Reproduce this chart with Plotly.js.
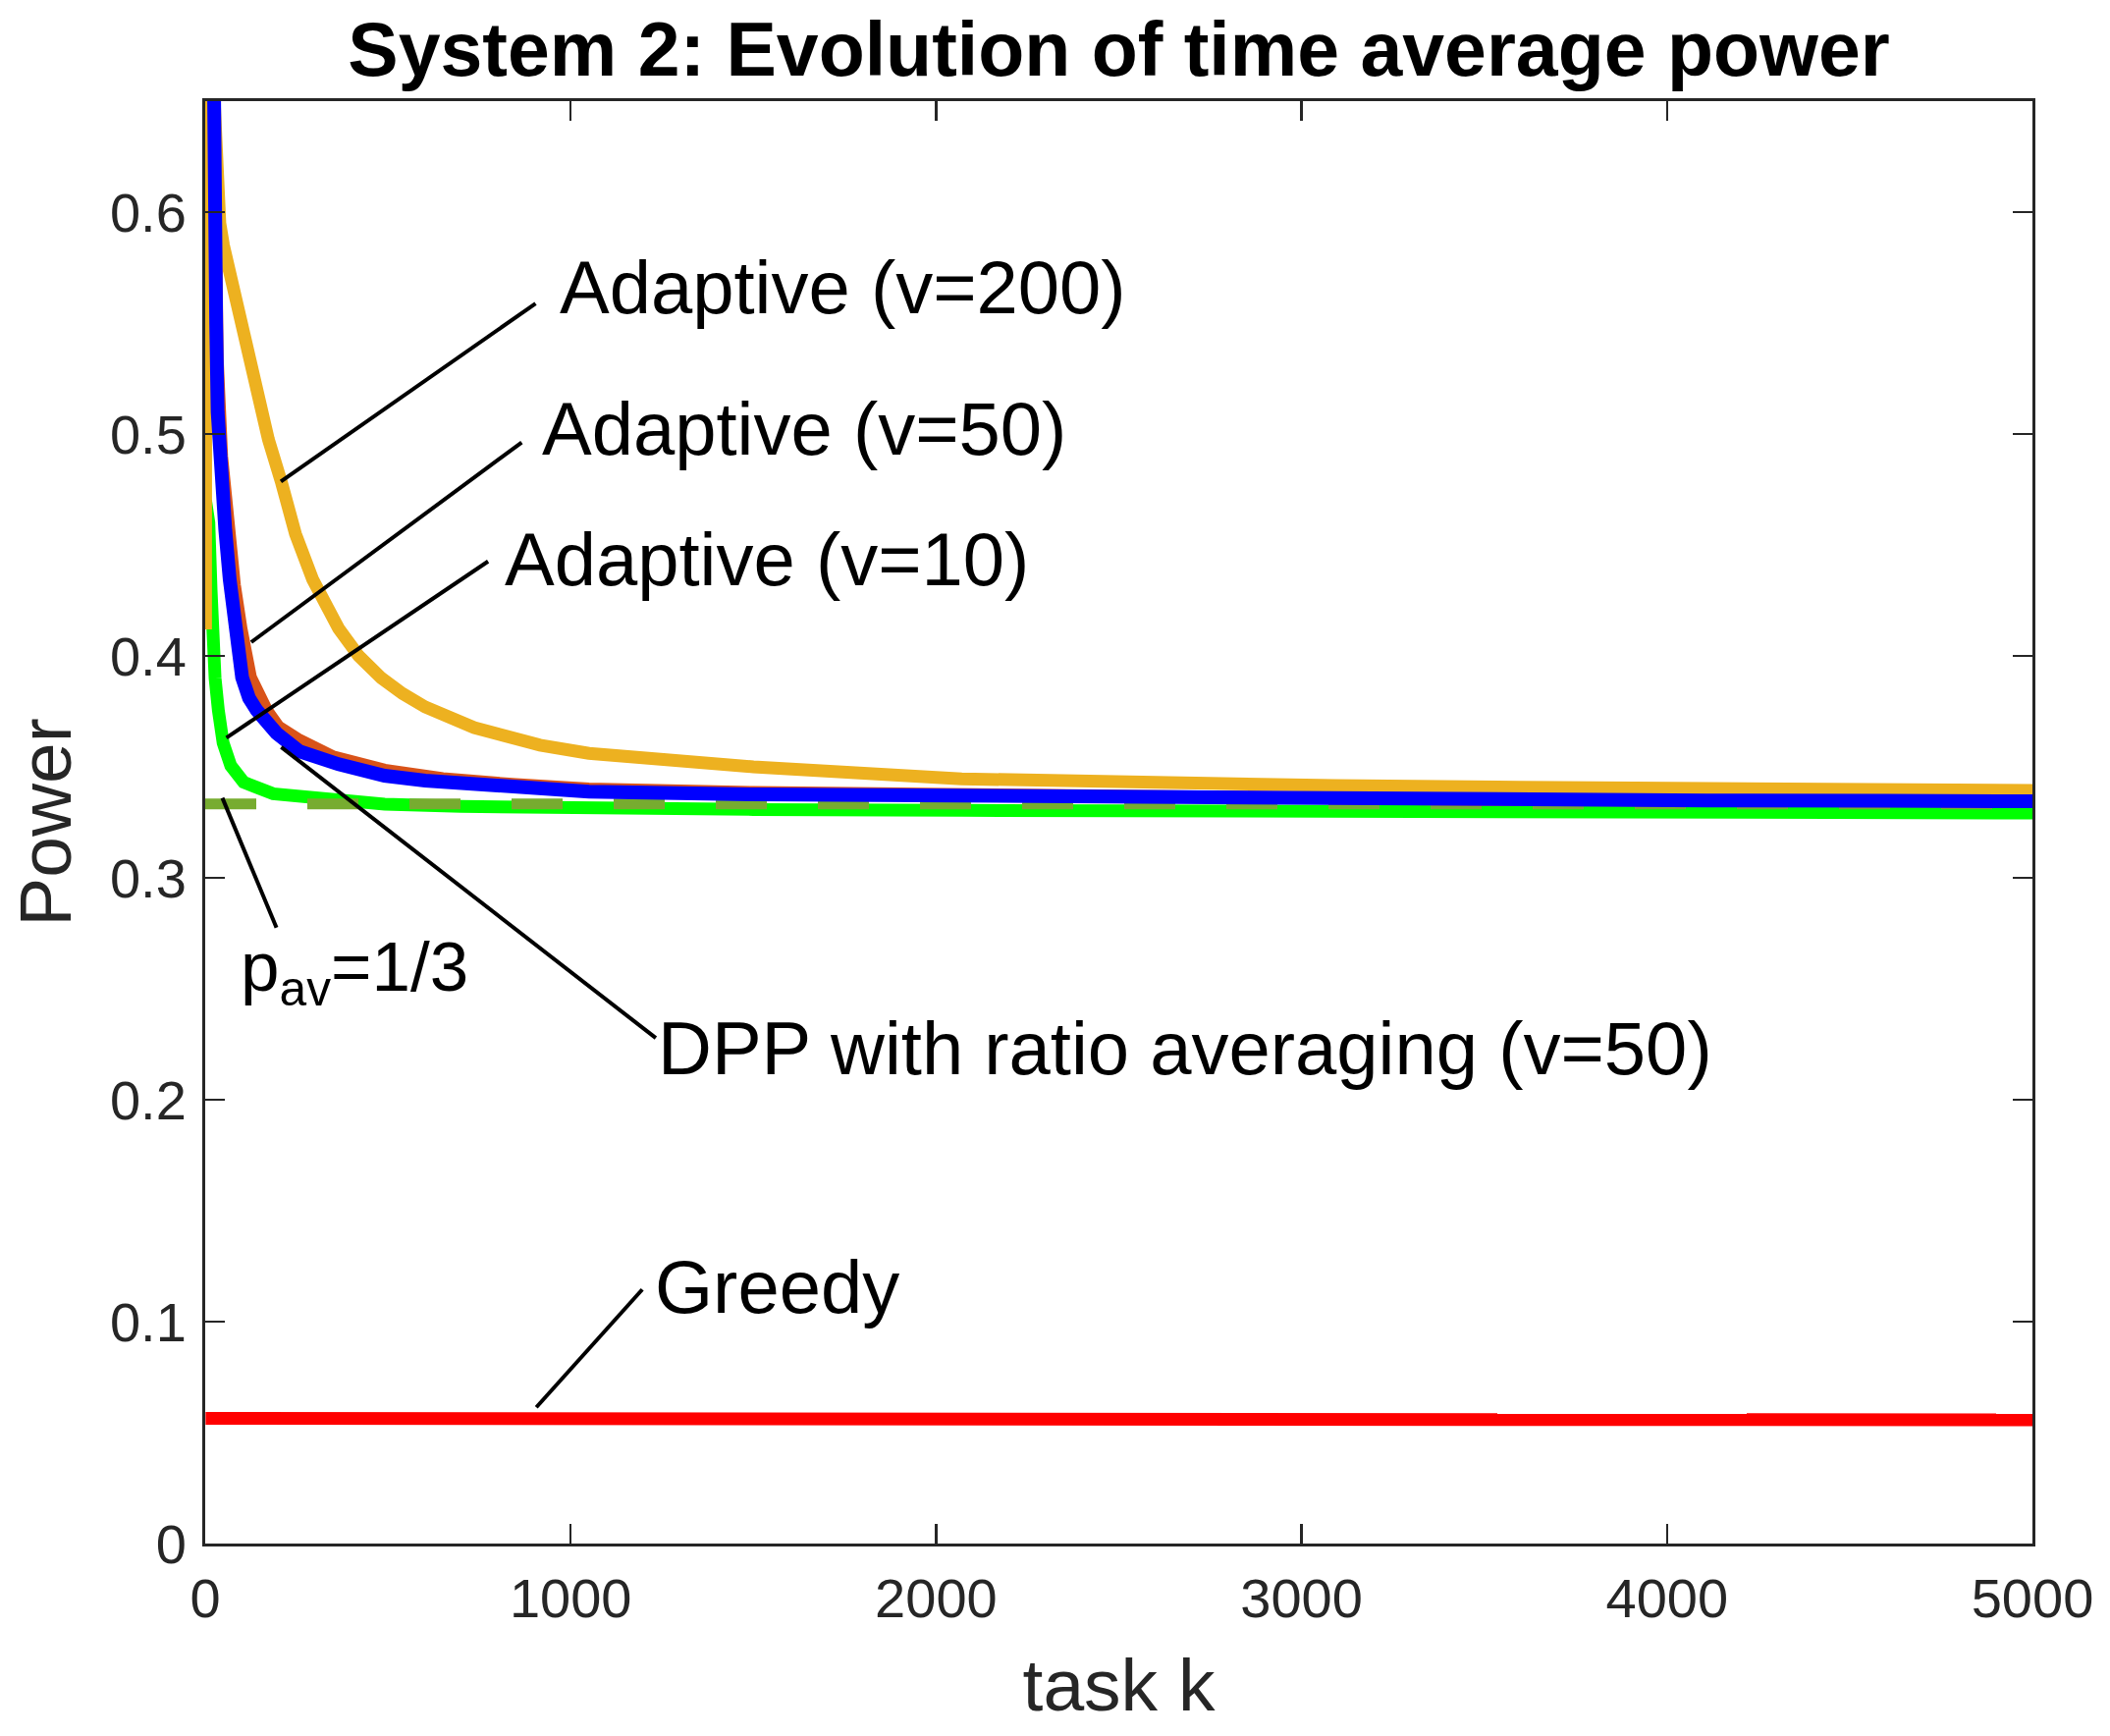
<!DOCTYPE html>
<html>
<head>
<meta charset="utf-8">
<script src="https://cdn.plot.ly/plotly-3.0.1.min.js"></script>
<style>html,body{margin:0;padding:0;background:#fff;}#plot{width:2149px;height:1768px;}</style>
</head>
<body>
<div id="plot"></div>
<script>
// ---- data ----
const greedyK = [1, 10, 100, 280, 300, 5000];
const greedyP = [0.0564, 0.0564, 0.0563, 0.0562, 0.0558, 0.0557];

const v10K = [1, 10, 16, 20, 27, 36, 49, 70, 105, 186, 321, 491, 700, 1050, 1500, 2070, 3090, 4109, 5000];
const v10P = [0.47, 0.46, 0.43, 0.405, 0.390, 0.3755, 0.3608, 0.3505, 0.3431, 0.3379, 0.3354, 0.3332, 0.3322, 0.3313, 0.3308, 0.3304, 0.3300, 0.3296, 0.3292];

const v50K = [1, 15, 24, 33, 45, 58, 65, 80, 98, 124, 168, 200, 258, 350, 491, 650, 850, 1050, 1500, 2070, 2700, 3500, 4200, 5000];
const v50P = [0.95, 0.75, 0.66, 0.534, 0.49, 0.466, 0.4567, 0.432, 0.4124, 0.3903, 0.3755, 0.368, 0.362, 0.3545, 0.3485, 0.3447, 0.3420, 0.3400, 0.3385, 0.3372, 0.3362, 0.3353, 0.3349, 0.3345];

const v200K = [1, 2, 12, 22, 32, 40, 50, 74, 101, 137, 173, 209, 247, 294, 330, 365, 420, 482, 540, 602, 736, 916, 1050, 1176, 1500, 2070, 2500, 3090, 3600, 4109, 4600, 5000];
const v200P = [0.412, 0.80, 0.72, 0.66, 0.615, 0.595, 0.585, 0.5675, 0.545, 0.522, 0.4975, 0.478, 0.455, 0.4345, 0.422, 0.4124, 0.400, 0.390, 0.383, 0.377, 0.3677, 0.3598, 0.3561, 0.3541, 0.3500, 0.3446, 0.3430, 0.3416, 0.3408, 0.3401, 0.3397, 0.3394];

const dppK = [5, 14, 21, 25, 30, 34, 44, 55, 67, 81, 101, 120, 141, 195, 258, 365, 491, 602, 827, 1050, 1500, 2070, 2600, 3090, 3600, 4109, 4600, 5000];
const dppP = [1.0, 0.75, 0.65, 0.60, 0.55, 0.51, 0.472, 0.4567, 0.4345, 0.4124, 0.3903, 0.381, 0.3755, 0.3652, 0.357, 0.3512, 0.346, 0.3438, 0.3407, 0.3388, 0.3376, 0.3367, 0.3360, 0.3354, 0.3351, 0.3349, 0.3347, 0.3345];

const pavK = [0, 5000];
const pavP = [1/3, 1/3];

const xTicks = [0, 1000, 2000, 3000, 4000, 5000];
const yTicks = [0, 0.1, 0.2, 0.3, 0.4, 0.5, 0.6];

// annotation labels: [text, text x, text y, line from x, line from y, line to x, line to y, font size]
const labels = [
  ['Adaptive (v=200)', 965, 0.566, 904, 0.5588, 207, 0.4786, 76],
  ['Adaptive (v=50)', 917, 0.5025, 866, 0.4962, 126, 0.4062, 76],
  ['Adaptive (v=10)', 815, 0.4437, 774, 0.4426, 58, 0.3631, 76],
  ['DPP with ratio averaging (v=50)', 1232, 0.2233, 1233, 0.2278, 208, 0.3589, 76],
  ['Greedy', 1224, 0.1155, 1196, 0.1145, 906, 0.0614, 76],
  ['p<sub>av</sub>=1/3', 92, 0.2575, 47, 0.336, 195, 0.2775, 71]
];

const FONT = 'Liberation Sans, Arial, Helvetica, sans-serif';

const traces = [
  {x: v10K, y: v10P, mode: 'lines', line: {color: '#00FF00', width: 13}, name: 'Adaptive (v=10)'},
  {x: pavK, y: pavP, mode: 'lines', line: {color: '#77AC30', width: 11, dash: '52px,52px'}, name: 'pav'},
  {x: v50K, y: v50P, mode: 'lines', line: {color: '#D95319', width: 13}, name: 'Adaptive (v=50)'},
  {x: v200K, y: v200P, mode: 'lines', line: {color: '#EDB120', width: 13}, name: 'Adaptive (v=200)'},
  {x: dppK, y: dppP, mode: 'lines', line: {color: '#0000FF', width: 14}, name: 'DPP'},
  {x: greedyK, y: greedyP, mode: 'lines', line: {color: '#FF0000', width: 13}, name: 'Greedy'}
];

const shapes = [];
const annotations = [];
labels.forEach(function(l) {
  shapes.push({type: 'line', xref: 'x', yref: 'y', x0: l[3], y0: l[4], x1: l[5], y1: l[6],
    line: {color: '#000000', width: 4}});
  annotations.push({xref: 'x', yref: 'y', x: l[1], y: l[2], text: l[0], showarrow: false,
    xanchor: 'left', yanchor: 'middle',
    font: {family: FONT, size: l[7], color: '#000000'}});
});

const layout = {
  width: 2149, height: 1768,
  margin: {l: 209, r: 79, t: 103, b: 196, pad: 0},
  paper_bgcolor: '#ffffff', plot_bgcolor: '#ffffff',
  showlegend: false,
  font: {family: FONT, color: '#262626'},
  title: {text: 'System 2: Evolution of time average power', x: 0.5, xref: 'paper', xanchor: 'center',
    y: 1 - 50/1768, yref: 'container', yanchor: 'middle',
    font: {family: FONT, size: 77, color: '#000000', weight: 'bold'}},
  xaxis: {
    range: [0, 5000], tickvals: xTicks, ticktext: xTicks.map(String),
    ticks: 'inside', ticklen: 20, tickwidth: 2.5, tickcolor: '#262626',
    showline: true, linewidth: 3, linecolor: '#262626', mirror: 'allticks',
    showgrid: false, zeroline: false, ticklabelstandoff: 5,
    tickfont: {family: FONT, size: 56, color: '#262626'},
    title: {text: 'task k', font: {family: FONT, size: 75, color: '#262626'}, standoff: 32}
  },
  yaxis: {
    range: [0, 0.65], tickvals: yTicks, ticktext: yTicks.map(String),
    ticks: 'inside', ticklen: 20, tickwidth: 2.5, tickcolor: '#262626',
    showline: true, linewidth: 3, linecolor: '#262626', mirror: 'allticks',
    showgrid: false, zeroline: false, ticklabelstandoff: 5,
    tickfont: {family: FONT, size: 56, color: '#262626'},
    title: {text: 'Power', font: {family: FONT, size: 75, color: '#262626'}, standoff: 15}
  },
  shapes: shapes,
  annotations: annotations
};

Plotly.newPlot('plot', traces, layout, {staticPlot: true, displayModeBar: false});
</script>
</body>
</html>
